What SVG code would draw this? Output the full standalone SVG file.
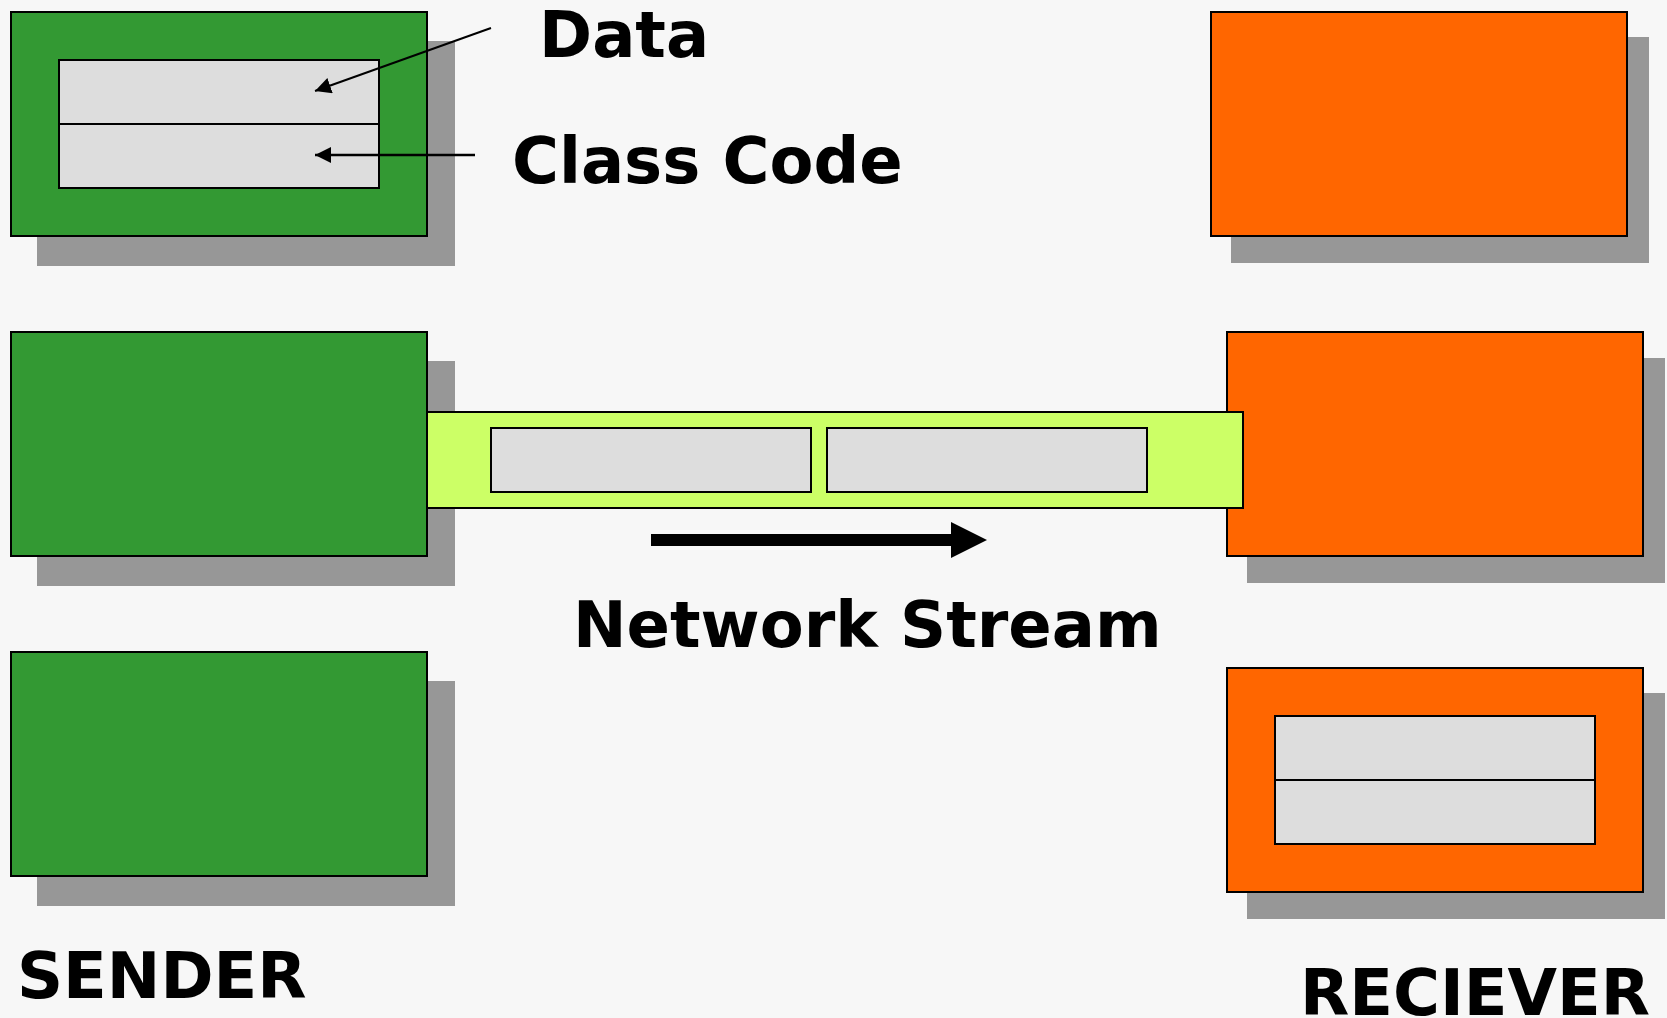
<svg xmlns="http://www.w3.org/2000/svg" width="1667" height="1018" viewBox="0 0 1667 1018">
  <style>
    .shadow { fill: #979797; }
    .sender { fill: #339933; stroke: #000; stroke-width: 2; }
    .receiver { fill: #ff6600; stroke: #000; stroke-width: 2; }
    .field { fill: #dddddd; stroke: #000; stroke-width: 2; }
    .stream { fill: #ccff66; stroke: #000; stroke-width: 2; }
    .label { font-family: "DejaVu Sans", "Liberation Sans", sans-serif; font-weight: bold; font-size: 64px; fill: #000; }
    .pointer { stroke: #000; fill: none; }
  </style>
  <defs>
    <marker id="head" viewBox="0 0 16 16" markerWidth="16" markerHeight="16" refX="16" refY="8" orient="auto" markerUnits="userSpaceOnUse">
      <path d="M0,0 L16,8 L0,16 Z" fill="#000"/>
    </marker>
  </defs>

  <rect width="1667" height="1018" fill="#f7f7f7"/>

  <!-- sender objects -->
  <g id="sender-top">
    <rect class="shadow" x="37" y="41" width="418" height="225"/>
    <rect class="sender" x="11" y="12" width="416" height="224"/>
    <rect class="field" x="59" y="60" width="320" height="64"/>
    <rect class="field" x="59" y="124" width="320" height="64"/>
  </g>
  <g id="sender-middle">
    <rect class="shadow" x="37" y="361" width="418" height="225"/>
    <rect class="sender" x="11" y="332" width="416" height="224"/>
  </g>
  <g id="sender-bottom">
    <rect class="shadow" x="37" y="681" width="418" height="225"/>
    <rect class="sender" x="11" y="652" width="416" height="224"/>
  </g>

  <!-- receiver objects -->
  <g id="receiver-top">
    <rect class="shadow" x="1231" y="37" width="418" height="226"/>
    <rect class="receiver" x="1211" y="12" width="416" height="224"/>
  </g>
  <g id="receiver-middle">
    <rect class="shadow" x="1247" y="358" width="418" height="225"/>
    <rect class="receiver" x="1227" y="332" width="416" height="224"/>
  </g>
  <g id="receiver-bottom">
    <rect class="shadow" x="1247" y="693" width="418" height="226"/>
    <rect class="receiver" x="1227" y="668" width="416" height="224"/>
    <rect class="field" x="1275" y="716" width="320" height="64"/>
    <rect class="field" x="1275" y="780" width="320" height="64"/>
  </g>

  <!-- serialized stream between the two sides -->
  <g id="network-stream">
    <rect class="stream" x="427" y="412" width="816" height="96"/>
    <rect class="field" x="491" y="428" width="320" height="64"/>
    <rect class="field" x="827" y="428" width="320" height="64"/>
  </g>

  <g id="connectors">
    <line class="pointer" x1="491" y1="28" x2="315" y2="91" stroke-width="2" marker-end="url(#head)"/>
    <line class="pointer" x1="475" y1="155" x2="315" y2="155" stroke-width="2.5" marker-end="url(#head)"/>
    <rect x="651" y="534" width="301" height="12" fill="#000"/>
    <polygon points="951,522 987,540 951,558" fill="#000"/>
  </g>

  <g id="labels">
    <text class="label" x="539" y="57">Data</text>
    <text class="label" x="512" y="183">Class Code</text>
    <text class="label" x="573" y="647">Network Stream</text>
    <text class="label" x="17" y="998">SENDER</text>
    <text class="label" x="1300" y="1015" font-size="63">RECIEVER</text>
  </g>
</svg>
